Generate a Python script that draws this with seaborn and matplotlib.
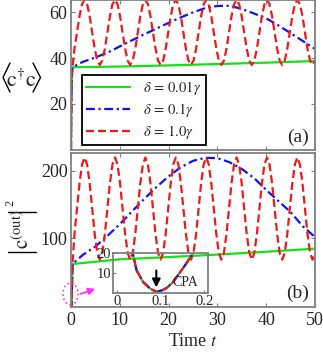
import matplotlib
matplotlib.use("Agg")
import matplotlib.pyplot as plt
from matplotlib.lines import Line2D
from matplotlib.patches import Ellipse
import pandas as pd
import seaborn as sns

# shared fast transient near t = 0 (all three curves coincide there)
T_EARLY_TOP = [0.0, 0.05, 0.1, 0.2, 0.3]
N_EARLY_TOP = [0.0, 15.0, 26.0, 33.0, 36.0]
T_EARLY_BOT = [0.0, 0.015, 0.028, 0.036, 0.045, 0.06, 0.076, 0.09, 0.104,
               0.114, 0.128, 0.141, 0.158, 0.174, 0.2, 0.25, 0.3]
N_EARLY_BOT = [60.0, 40.0, 27.0, 20.0, 11.0, 5.0, 1.6, 0.0, 0.8,
               2.0, 5.0, 9.0, 14.5, 20.0, 28.0, 44.0, 62.0]

# delta = 1.0 gamma (red)
T_RED = [0.71, 1.23, 1.75, 2.27, 2.79, 3.30, 3.82, 4.34, 4.86, 5.38, 5.90, 6.42,
         6.94, 7.46, 7.98, 8.50, 9.02, 9.53, 10.05, 10.57, 11.09, 11.61, 12.13, 12.65,
         13.17, 13.69, 14.21, 14.73, 15.25, 15.76, 16.28, 16.80, 17.32, 17.84, 18.36, 18.88,
         19.40, 19.92, 20.44, 20.96, 21.48, 21.99, 22.51, 23.03, 23.55, 24.07, 24.59, 25.11,
         25.63, 26.15, 26.67, 27.19, 27.71, 28.22, 28.74, 29.26, 29.78, 30.30, 30.82, 31.34,
         31.86, 32.38, 32.90, 33.42, 33.94, 34.45, 34.97, 35.49, 36.01, 36.53, 37.05, 37.57,
         38.09, 38.61, 39.13, 39.65, 40.17, 40.68, 41.20, 41.72, 42.24, 42.76, 43.28, 43.80,
         44.32, 44.84, 45.36, 45.88, 46.40, 46.91, 47.43, 47.95, 48.47, 48.99, 49.51, 50.00]
RED_TOP = [44.1, 51.2, 58.4, 63.6, 65.5, 63.6, 58.4, 51.2, 44.1, 38.9, 37.0, 38.9,
           44.1, 51.2, 58.4, 63.6, 65.5, 63.6, 58.4, 51.2, 44.1, 38.9, 37.0, 38.9,
           44.1, 51.2, 58.4, 63.6, 65.5, 63.6, 58.4, 51.2, 44.1, 38.9, 37.0, 38.9,
           44.1, 51.2, 58.4, 63.6, 65.5, 63.6, 58.4, 51.2, 44.1, 38.9, 37.0, 38.9,
           44.1, 51.2, 58.4, 63.6, 65.5, 63.6, 58.4, 51.2, 44.1, 38.9, 37.0, 38.9,
           44.1, 51.2, 58.4, 63.6, 65.5, 63.6, 58.4, 51.2, 44.1, 38.9, 37.0, 38.9,
           44.1, 51.2, 58.4, 63.6, 65.5, 63.6, 58.4, 51.2, 44.1, 38.9, 37.0, 38.9,
           44.1, 51.2, 58.4, 63.6, 65.5, 63.6, 58.4, 51.2, 44.1, 38.9, 37.0, 38.9]
RED_BOT = [106.4, 144.3, 182.1, 209.9, 220.0, 209.9, 182.1, 144.3, 106.4, 78.6, 68.5, 78.6,
           106.4, 144.3, 182.1, 209.9, 220.0, 209.9, 182.1, 144.3, 106.4, 78.6, 68.5, 78.6,
           106.4, 144.3, 182.1, 209.9, 220.0, 209.9, 182.1, 144.3, 106.4, 78.6, 68.5, 78.6,
           106.4, 144.3, 182.1, 209.9, 220.0, 209.9, 182.1, 144.3, 106.4, 78.6, 68.5, 78.6,
           106.4, 144.3, 182.1, 209.9, 220.0, 209.9, 182.1, 144.3, 106.4, 78.6, 68.5, 78.6,
           106.4, 144.3, 182.1, 209.9, 220.0, 209.9, 182.1, 144.3, 106.4, 78.6, 68.5, 78.6,
           106.4, 144.3, 182.1, 209.9, 220.0, 209.9, 182.1, 144.3, 106.4, 78.6, 68.5, 78.6,
           106.4, 144.3, 182.1, 209.9, 220.0, 209.9, 182.1, 144.3, 106.4, 78.6, 68.5, 78.6]

# delta = 0.1 gamma (blue)
T_BLUE = [2.5, 5.0, 7.5, 10.0, 12.5, 15.0, 17.5, 20.0, 22.5, 25.0,
          27.5, 30.0, 32.5, 35.0, 37.5, 40.0, 42.5, 45.0, 47.5, 50.0]
BLUE_TOP = [38.4, 40.3, 42.4, 45.1, 47.8, 50.4, 52.9, 55.4, 57.8, 60.0,
            61.9, 62.8, 62.9, 61.5, 59.5, 57.4, 54.3, 50.9, 47.5, 44.0]
BLUE_BOT = [76.0, 88.0, 104.0, 121.0, 140.0, 158.5, 176.0, 192.0, 205.5, 215.0,
            219.5, 219.0, 213.0, 203.0, 189.5, 172.0, 155.5, 139.0, 118.0, 102.0]

# delta = 0.01 gamma (green)
T_GREEN = [10.0, 20.0, 30.0, 40.0, 50.0]
GREEN_TOP = [36.3, 36.8, 37.4, 38.0, 38.7]
GREEN_BOT = [69.0, 72.3, 76.0, 80.2, 84.8]

LABELS = [r"$\delta\,=\,0.01\gamma$", r"$\delta\,=\,0.1\gamma$", r"$\delta\,=\,1.0\gamma$"]

GREEN = "#18e018"
BLUE = "#1414f0"
RED = "#f01818"
GRAY = "#808080"
STYLES = {
    "green": dict(color=GREEN, linestyle="-", linewidth=1.6),
    "blue": dict(color=BLUE, linestyle=(0, (4.0, 1.6, 1.0, 1.6)), linewidth=1.6),
    "red": dict(color=RED, linestyle=(0, (3.6, 1.8)), linewidth=1.6),
}

W, H = 323, 356


def px(x, y):
    # figure pixel position (from top-left) -> figure fraction
    return x / W, 1 - y / H


def curve(t_early, v_early, t_own, v_own):
    return pd.DataFrame({"t": t_early + t_own, "v": v_early + v_own})


def draw_curves(ax, t_early, v_early, green, blue, red):
    for key, vals, t_own in (("green", green, T_GREEN), ("blue", blue, T_BLUE), ("red", red, T_RED)):
        df = curve(t_early, v_early, t_own, vals)
        sns.lineplot(data=df, x="t", y="v", ax=ax, estimator=None, sort=False,
                     legend=False, **STYLES[key])
    ax.set_xlabel("")
    ax.set_ylabel("")


def style_frame(ax, labelsize=13, pad=2.5):
    for s in ax.spines.values():
        s.set_color(GRAY)
        s.set_linewidth(1.3)
    ax.tick_params(direction="in", length=3, width=0.8, color=GRAY,
                   top=True, right=True, bottom=True, left=True,
                   labelsize=labelsize, pad=pad)


def fig_line(fig, pts, lw=1.0):
    xs = [px(x, y)[0] for x, y in pts]
    ys = [px(x, y)[1] for x, y in pts]
    fig.add_artist(Line2D(xs, ys, color="black", lw=lw, transform=fig.transFigure))


sns.set_theme(style="white")
plt.rcParams["font.family"] = ["Liberation Serif", "DejaVu Serif"]
plt.rcParams["mathtext.fontset"] = "stix"

fig = plt.figure(figsize=(W / 100, H / 100), dpi=100)
ax_top = fig.add_axes([0.2198, 0.580, 0.7554, 0.4186])
ax_bot = fig.add_axes([0.2198, 0.139, 0.7554, 0.430])

# top panel
draw_curves(ax_top, T_EARLY_TOP, N_EARLY_TOP, GREEN_TOP, BLUE_TOP, RED_TOP)
ax_top.set_xlim(0, 50)
ax_top.set_ylim(0, 65.2)
ax_top.set_xticks([0, 10, 20, 30, 40, 50])
ax_top.set_yticks([20, 40, 60])
style_frame(ax_top)
ax_top.tick_params(labelbottom=False)
handles = [Line2D([], [], **STYLES[k]) for k in ("green", "blue", "red")]
leg = ax_top.legend(handles, LABELS, loc="lower left", bbox_to_anchor=(0.045, 0.03),
                    frameon=True, fancybox=False, edgecolor="black", framealpha=1,
                    fontsize=10.5, handlelength=3.0, borderpad=0.3, labelspacing=0.25,
                    handletextpad=0.9, borderaxespad=0)
leg.get_frame().set_linewidth(1.3)
ax_top.text(0.93, 0.085, "(a)", transform=ax_top.transAxes, ha="center", va="center", fontsize=14)

# bottom panel
draw_curves(ax_bot, T_EARLY_BOT, N_EARLY_BOT, GREEN_BOT, BLUE_BOT, RED_BOT)
ax_bot.set_xlim(0, 50)
ax_bot.set_ylim(-1, 226)
ax_bot.set_xticks([0, 10, 20, 30, 40, 50])
ax_bot.set_yticks([100, 200])
style_frame(ax_bot)
ax_bot.tick_params(axis="x", pad=4)
ax_bot.set_xlabel("Time $t$", fontsize=13, labelpad=3)
ax_bot.text(0.93, 0.088, "(b)", transform=ax_bot.transAxes, ha="center", va="center", fontsize=14)

ax_bot.add_patch(Ellipse((-0.1, 17.6), 3.1, 32.4, fill=False, edgecolor="#ff30ff",
                         linestyle=":", linewidth=1.2, clip_on=False))
ax_bot.annotate("", xy=(5.5, 26.5), xytext=(1.4, 16.2), annotation_clip=False,
                arrowprops=dict(arrowstyle="-|>", color="#ff30ff", lw=1.3, mutation_scale=10))

# inset around the CPA dip
ax_in = fig.add_axes([0.3508, 0.1778, 0.294, 0.1107])
ax_in.patch.set_alpha(0)
draw_curves(ax_in, T_EARLY_BOT, N_EARLY_BOT, GREEN_BOT, BLUE_BOT, RED_BOT)
ax_in.set_xlim(-0.0085, 0.209)
ax_in.set_ylim(-0.5, 20)
ax_in.set_xticks([0, 0.1, 0.2])
ax_in.set_xticklabels(["0", "0.1", "0.2"])
ax_in.set_yticks([10, 20])
style_frame(ax_in, labelsize=10.5, pad=1.5)
ax_in.tick_params(length=2, top=False, right=False)
ax_in.annotate("", xy=(0.09, 0.8), xytext=(0.09, 12.5),
               arrowprops=dict(arrowstyle="-|>", color="black", lw=1.5, mutation_scale=12))
ax_in.text(0.156, 5, "CPA", ha="center", va="center", fontsize=10)

# y label of the top panel: tall angle brackets around c^dagger c
fig_line(fig, [(10, 63), (3, 77.5), (10, 92)])
fig_line(fig, [(33, 63), (40.5, 77.5), (33, 92)])
fig.text(*px(21.5, 87), r"$\mathrm{c}^{\dagger}\mathrm{c}$", ha="center", va="baseline", fontsize=16)

# y label of the bottom panel: |c^(out)|^2, rotated, with tall bars
fig_line(fig, [(8, 252), (36, 252)])
fig_line(fig, [(8, 212), (36, 212)])
fig.text(*px(23, 229), r"$\mathrm{c}^{(\mathrm{out})}$", ha="center", va="center",
         rotation=90, fontsize=15)
fig.text(*px(10, 203), "2", ha="center", va="center", rotation=90, fontsize=9)

fig.savefig("out.png", dpi=100)
